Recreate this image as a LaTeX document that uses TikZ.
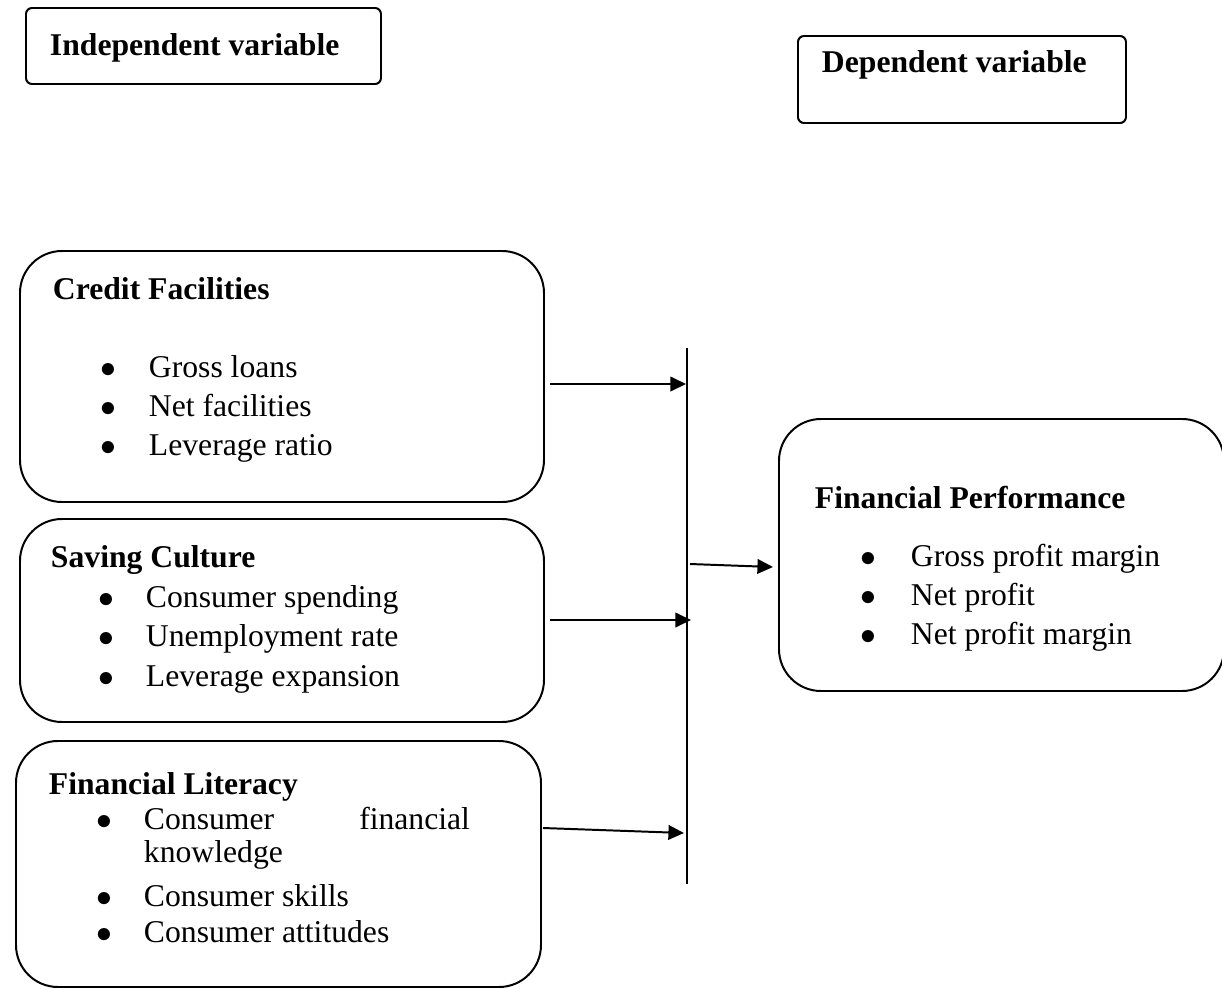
\documentclass[tikz,border=0pt]{standalone}
\usepackage{fontspec}
\setmainfont{Liberation Serif}
\usetikzlibrary{arrows.meta}
\newdimen\px \px=0.379pt
\newcommand{\bul}[1]{\makebox[0pt][c]{$\bullet$}\hspace*{#1\px}}

\begin{document}
\begin{tikzpicture}[x=1\px, y=-1\px, line width=0.75pt,
    varbox/.style ={draw, rounded corners=6\px, anchor=north west, inner sep=0pt},
    blockbox/.style ={draw, rounded corners=42\px, anchor=north west, inner sep=0pt},
    head/.style ={anchor=base west, inner sep=0pt, font=\fontsize{12}{14}\selectfont\bfseries},
    item/.style ={anchor=base west, inner sep=0pt, font=\fontsize{12}{14}\selectfont},
    arrow/.style ={-{Triangle[length=5.9pt,width=5.5pt]}}]
   \useasboundingbox (0,0) rectangle (1222,990);

   % variable labels
   \node[varbox, minimum width=355\px, minimum height=76\px] (indep) at (25,7) {};
   \node[head] (indeptxt) at (49,55) {Independent variable};
   \node[varbox, minimum width=328\px, minimum height=87\px] (dep) at (797,35) {};
   \node[head] (deptxt) at (821,72) {Dependent variable};

   % independent blocks
   \node[blockbox, minimum width=524\px, minimum height=251\px] (credit) at (19,250) {};
   \node[head] (credithead) at (52,299) {Credit Facilities};
   \node[item] (cf1) at (107,377) {\bul{41}Gross loans};
   \node[item] (cf2) at (107,416) {\bul{41}Net facilities};
   \node[item] (cf3) at (107,455) {\bul{41}Leverage ratio};

   \node[blockbox, minimum width=524\px, minimum height=203\px] (saving) at (19,518) {};
   \node[head] (savinghead) at (50,567) {Saving Culture};
   \node[item] (sc1) at (105,607) {\bul{40}Consumer spending};
   \node[item] (sc2) at (105,646) {\bul{40}Unemployment rate};
   \node[item] (sc3) at (105,686) {\bul{40}Leverage expansion};

   \node[blockbox, minimum width=525\px, minimum height=246\px] (literacy) at (15,740) {};
   \node[head] (literacyhead) at (48,794) {Financial Literacy};
   \node[item] (fl1) at (103,829) {\bul{40}Consumer};
   \node[item, anchor=base east] (fl1b) at (471,829) {financial};
   \node[item] (fl1c) at (143,862) {knowledge};
   \node[item] (fl2) at (103,906) {\bul{40}Consumer skills};
   \node[item] (fl3) at (103,942) {\bul{40}Consumer attitudes};

   % dependent block
   \node[blockbox, minimum width=445\px, minimum height=272\px] (perf) at (778,418) {};
   \node[head] (perfhead) at (814,508) {Financial Performance};
   \node[item] (fp1) at (867,566) {\bul{43}Gross profit margin};
   \node[item] (fp2) at (867,605) {\bul{43}Net profit};
   \node[item] (fp3) at (867,644) {\bul{43}Net profit margin};

   % collecting bar and arrows
   \coordinate (bartop) at (687,348);
   \coordinate (barbot) at (687,884);
   \draw (bartop) -- (barbot);

   \coordinate (cfout) at (550,384);
   \coordinate (cfin)  at (686,384);
   \coordinate (scout) at (550,620);
   \coordinate (scin)  at (691,620);
   \coordinate (flout) at (543,828);
   \coordinate (flin)  at (684,833);
   \coordinate (barout) at (690,564);
   \coordinate (perfin) at (773,567);

   \draw[arrow] (cfout) -- (cfin);
   \draw[arrow] (scout) -- (scin);
   \draw[arrow] (flout) -- (flin);
   \draw[arrow] (barout) -- (perfin);
\end{tikzpicture}
\end{document}
